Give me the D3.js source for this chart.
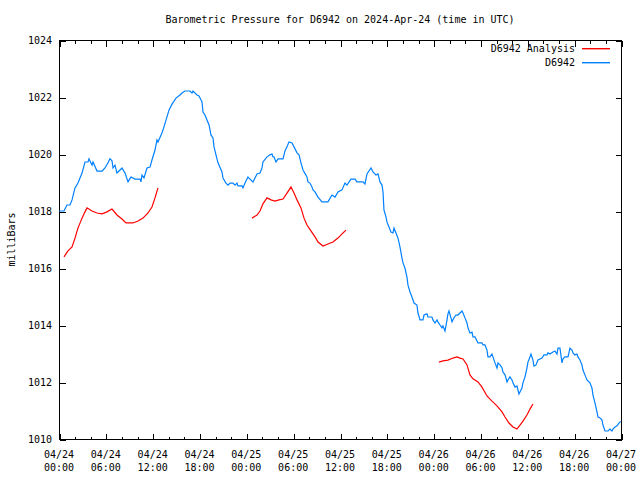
<!DOCTYPE html>
<html>
<head>
<meta charset="utf-8">
<script src="https://cdn.jsdelivr.net/npm/d3@7"></script>
<style>
  html, body { margin: 0; padding: 0; background: #fff; }
  svg { display: block; }
  text { font-family: "DejaVu Sans Mono", "Liberation Mono", monospace; font-size: 10px; fill: #000; }
</style>
</head>
<body>
<svg id="chart" width="640" height="480"></svg>
<script>
// ---- data (hours since 2024-04-24 00:00 UTC, pressure in millibars) ----
const chartTitle = "Barometric Pressure for D6942 on 2024-Apr-24 (time in UTC)";
const yAxisLabel = "milliBars";
const seriesNames = ["D6942 Analysis", "D6942"];

const xTickHours = [0, 6, 12, 18, 24, 30, 36, 42, 48, 54, 60, 66, 72];
const xTickDates = ["04/24","04/24","04/24","04/24","04/25","04/25","04/25","04/25","04/26","04/26","04/26","04/26","04/27"];
const xTickTimes = ["00:00","06:00","12:00","18:00","00:00","06:00","12:00","18:00","00:00","06:00","12:00","18:00","00:00"];
const yTickValues = [1010, 1012, 1014, 1016, 1018, 1020, 1022, 1024];

const stationHours = [
  0, 0.64, 1.02, 1.41, 1.67, 2.05, 2.43, 2.95, 3.33, 3.72, 3.84, 4.23, 4.36, 4.87, 5.51, 5.89, 6.28, 6.53, 6.79, 6.92,
  7.17, 7.43, 7.56, 8.07, 8.46, 8.84, 9.22, 9.74, 10.38, 10.50, 10.63, 10.89, 11.27, 11.66, 11.91, 12.30, 12.55, 12.68, 13.19, 13.32,
  13.71, 14.09, 14.48, 14.99, 15.50, 15.76, 16.14, 16.78, 17.04, 17.17, 17.68, 17.93, 18.32, 18.45, 18.70, 18.96, 19.22, 19.47, 19.73, 19.86,
  20.11, 20.37, 20.88, 21.01, 21.39, 21.65, 21.91, 22.29, 22.55, 22.80, 22.93, 23.44, 23.57, 23.83, 24.21, 24.47, 24.85, 25.11, 25.37, 25.75,
  26.01, 26.13, 26.65, 27.03, 27.29, 27.42, 27.54, 27.80, 28.06, 28.70, 28.95, 29.21, 29.46, 29.85, 30.11, 30.49, 30.75, 31.00, 31.26, 31.64,
  31.77, 31.90, 32.15, 32.41, 32.54, 32.80, 33.18, 33.69, 34.46, 34.97, 35.36, 35.74, 36.25, 36.64, 36.89, 37.41, 37.92, 38.18, 38.94, 39.20,
  39.46, 39.97, 40.23, 40.61, 40.87, 41.12, 41.38, 41.51, 41.63, 41.89, 42.02, 42.28, 42.53, 42.79, 42.92, 43.17, 43.43, 43.68, 43.94, 44.07,
  44.32, 44.58, 44.71, 44.97, 45.22, 45.48, 45.86, 45.99, 46.25, 46.63, 46.76, 47.14, 47.27, 47.78, 47.91, 48.17, 48.42, 48.55, 48.81, 49.06,
  49.19, 49.45, 49.71, 49.83, 49.96, 50.22, 50.35, 50.60, 50.86, 51.11, 51.37, 51.63, 51.76, 52.01, 52.27, 52.40, 52.65, 52.91, 53.04, 53.29,
  53.68, 54.19, 54.32, 54.57, 54.83, 54.96, 55.21, 55.47, 55.60, 55.86, 56.11, 56.24, 56.50, 56.76, 56.88, 57.14, 57.40, 57.52, 57.78, 58.03,
  58.16, 58.42, 58.67, 58.80, 58.93, 59.31, 59.44, 59.70, 59.95, 60.08, 60.34, 60.47, 60.72, 60.85, 61.11, 61.36, 61.88, 62.13, 62.52, 62.64,
  62.90, 63.28, 63.54, 63.80, 63.93, 64.18, 64.44, 64.57, 64.82, 65.21, 65.46, 65.72, 65.85, 66.10, 66.36, 66.49, 66.74, 67.00, 67.13, 67.38,
  67.64, 68.02, 68.28, 68.41, 68.67, 68.92, 69.05, 69.31, 69.56, 69.69, 69.95, 70.33, 70.59, 70.84, 70.97, 71.23, 71.49, 71.74, 71.95
];
const stationPressure = [
  1018.00, 1018.00, 1018.21, 1018.21, 1018.39, 1018.81, 1018.98, 1019.33, 1019.72, 1019.72, 1019.83, 1019.61, 1019.72, 1019.40, 1019.40, 1019.51, 1019.69, 1019.83, 1019.76, 1019.51,
  1019.61, 1019.33, 1019.37, 1019.51, 1019.33, 1019.02, 1019.19, 1019.12, 1019.12, 1019.02, 1019.26, 1019.16, 1019.51, 1019.54, 1019.79, 1020.14, 1020.49, 1020.42, 1020.74, 1020.84,
  1021.19, 1021.54, 1021.75, 1021.96, 1022.07, 1022.14, 1022.21, 1022.21, 1022.14, 1022.21, 1022.07, 1022.04, 1021.83, 1021.47, 1021.37, 1021.19, 1021.02, 1020.67, 1020.56, 1020.25,
  1019.97, 1019.69, 1019.37, 1019.16, 1018.98, 1018.91, 1018.98, 1018.98, 1018.91, 1018.98, 1018.88, 1018.88, 1018.81, 1018.98, 1019.19, 1019.12, 1019.02, 1019.16, 1019.30, 1019.33,
  1019.51, 1019.72, 1019.90, 1019.97, 1020.00, 1019.90, 1019.90, 1019.72, 1019.83, 1019.83, 1020.11, 1020.25, 1020.42, 1020.39, 1020.25, 1020.04, 1019.97, 1019.69, 1019.44, 1019.26,
  1019.19, 1019.02, 1018.98, 1018.84, 1018.74, 1018.67, 1018.49, 1018.32, 1018.32, 1018.56, 1018.49, 1018.67, 1018.74, 1018.98, 1018.91, 1019.12, 1019.12, 1019.02, 1019.02, 1018.95,
  1019.30, 1019.51, 1019.37, 1019.26, 1019.30, 1019.02, 1018.91, 1018.67, 1018.04, 1017.79, 1017.61, 1017.44, 1017.26, 1017.23, 1017.40, 1017.23, 1017.05, 1016.74, 1016.35, 1016.18,
  1016.00, 1015.68, 1015.40, 1015.16, 1014.98, 1014.77, 1014.70, 1014.42, 1014.18, 1014.18, 1014.35, 1014.39, 1014.28, 1014.28, 1014.18, 1014.07, 1014.18, 1014.11, 1014.00, 1013.90,
  1013.97, 1013.79, 1014.18, 1014.39, 1014.49, 1014.25, 1014.11, 1014.25, 1014.35, 1014.35, 1014.42, 1014.49, 1014.42, 1014.25, 1014.07, 1013.90, 1013.72, 1013.75, 1013.58, 1013.58,
  1013.37, 1013.37, 1013.30, 1013.30, 1013.12, 1012.88, 1012.88, 1012.98, 1012.88, 1012.67, 1012.49, 1012.67, 1012.60, 1012.49, 1012.35, 1012.25, 1012.00, 1012.07, 1012.18, 1012.07,
  1011.97, 1011.82, 1011.86, 1011.72, 1011.58, 1011.79, 1011.97, 1012.18, 1012.49, 1012.70, 1012.88, 1012.98, 1012.77, 1012.56, 1012.60, 1012.77, 1012.84, 1012.95, 1012.95, 1013.02,
  1012.98, 1013.05, 1013.09, 1012.98, 1013.19, 1013.19, 1012.67, 1012.81, 1012.88, 1012.88, 1013.19, 1013.12, 1013.02, 1012.95, 1012.98, 1012.88, 1012.77, 1012.60, 1012.42, 1012.25,
  1012.07, 1011.97, 1011.79, 1011.54, 1011.26, 1010.95, 1010.77, 1010.74, 1010.67, 1010.49, 1010.28, 1010.28, 1010.35, 1010.28, 1010.35, 1010.42, 1010.46, 1010.56, 1010.62
];

// analysis series: null marks a gap between runs
const analysisHours = [
  0.64, 1.15, 1.67, 2.05, 2.43, 2.95, 3.33, 3.59, 4.23, 4.87, 5.51, 6.15, 6.79, 7.43, 8.07, 8.58, 9.48, 10.12, 10.76, 11.40, 11.91, 12.30, 12.68,
  null,
  24.72, 25.37, 25.75, 26.13, 26.65, 27.16, 27.67, 28.18, 28.70, 29.21, 29.72, 30.11, 30.49, 31.00, 31.39, 31.77, 32.28, 32.80, 33.18, 33.82, 34.46, 35.10, 35.74, 36.38, 36.77,
  null,
  48.68, 49.19, 49.83, 50.47, 50.99, 51.37, 51.76, 52.27, 52.65, 53.04, 53.68, 54.19, 54.83, 55.47, 56.11, 56.76, 57.14, 57.65, 58.16, 58.67, 59.06, 59.44, 59.95, 60.34, 60.72
];
const analysisPressure = [
  1016.39, 1016.60, 1016.74, 1017.05, 1017.40, 1017.75, 1017.97, 1018.11, 1018.00, 1017.93, 1017.90, 1017.97, 1018.07, 1017.86, 1017.72, 1017.58, 1017.58, 1017.65, 1017.75, 1017.93, 1018.14, 1018.46, 1018.81,
  null,
  1017.75, 1017.86, 1018.00, 1018.25, 1018.46, 1018.39, 1018.35, 1018.39, 1018.42, 1018.63, 1018.84, 1018.63, 1018.39, 1018.11, 1017.75, 1017.51, 1017.30, 1017.09, 1016.91, 1016.77, 1016.84, 1016.91, 1017.05, 1017.23, 1017.33,
  null,
  1012.70, 1012.74, 1012.77, 1012.84, 1012.88, 1012.84, 1012.81, 1012.60, 1012.25, 1012.11, 1012.00, 1011.82, 1011.51, 1011.33, 1011.16, 1010.95, 1010.77, 1010.56, 1010.42, 1010.35, 1010.49, 1010.63, 1010.84, 1011.05, 1011.23
];

const colors = { analysis: "#ff0000", station: "#0080ff" };

// ---- layout ----
const svg = d3.select("#chart");
const L = 59, R = 621, T = 40, B = 439;

const x = d3.scaleLinear().domain([0, 72]).range([L, R]);
const y = d3.scaleLinear().domain([1010, 1024]).range([B, T]);

const minorHours = d3.range(0, 73, 2).filter(h => !xTickHours.includes(h));

// plot frame
svg.append("rect")
  .attr("x", L + 0.5).attr("y", T + 0.5)
  .attr("width", R - L).attr("height", B - T)
  .attr("fill", "none").attr("stroke", "#000").attr("stroke-width", 1)
  .attr("shape-rendering", "crispEdges");

function styleAxis(g) {
  g.select(".domain").remove();
  g.selectAll("line").attr("stroke", "#000").attr("shape-rendering", "crispEdges");
  g.selectAll("text").remove();
}

// bottom axis, major + minor ticks (inward)
svg.append("g").attr("transform", `translate(0.5,${B + 0.5})`)
  .call(d3.axisBottom(x).tickValues(xTickHours).tickSize(-6).tickFormat(""))
  .call(styleAxis);
svg.append("g").attr("transform", `translate(0.5,${B + 0.5})`)
  .call(d3.axisBottom(x).tickValues(minorHours).tickSize(-3).tickFormat(""))
  .call(styleAxis);
// top axis mirror
svg.append("g").attr("transform", `translate(0.5,${T + 0.5})`)
  .call(d3.axisTop(x).tickValues(xTickHours).tickSize(-6).tickFormat(""))
  .call(styleAxis);
svg.append("g").attr("transform", `translate(0.5,${T + 0.5})`)
  .call(d3.axisTop(x).tickValues(minorHours).tickSize(-3).tickFormat(""))
  .call(styleAxis);
// left axis ticks
svg.append("g").attr("transform", `translate(${L + 0.5},0.5)`)
  .call(d3.axisLeft(y).tickValues(yTickValues).tickSize(-6).tickFormat(""))
  .call(styleAxis);
// right axis mirror
svg.append("g").attr("transform", `translate(${R + 0.5},0.5)`)
  .call(d3.axisRight(y).tickValues(yTickValues).tickSize(-6).tickFormat(""))
  .call(styleAxis);

// y tick labels
svg.append("g").selectAll("text").data(yTickValues).join("text")
  .attr("x", L - 7).attr("y", d => y(d) + 4)
  .attr("text-anchor", "end")
  .text(d => d);

// x tick labels (two lines)
const xl = svg.append("g").selectAll("text").data(xTickHours).join("text")
  .attr("text-anchor", "middle");
xl.append("tspan").attr("x", d => x(d)).attr("y", B + 19).text((d, i) => xTickDates[i]);
xl.append("tspan").attr("x", d => x(d)).attr("y", B + 32).text((d, i) => xTickTimes[i]);

// title
svg.append("text").attr("x", (L + R) / 2).attr("y", 23)
  .attr("text-anchor", "middle").text(chartTitle);

// y label
svg.append("text").attr("transform", `translate(15,${(T + B) / 2}) rotate(-90)`)
  .attr("text-anchor", "middle").text(yAxisLabel);

// data lines
svg.append("defs").append("clipPath").attr("id", "plotclip")
  .append("rect").attr("x", L).attr("y", T).attr("width", R - L + 1).attr("height", B - T + 1);

const stationData = stationHours.map((h, i) => ({ h, p: stationPressure[i] }));
const analysisData = analysisHours.map((h, i) => ({ h, p: analysisPressure[i] }));

const line = d3.line()
  .defined(d => d.h !== null && d.p !== null)
  .x(d => x(d.h)).y(d => y(d.p));

svg.append("path").datum(analysisData)
  .attr("d", line).attr("fill", "none")
  .attr("stroke", colors.analysis).attr("stroke-width", 1.2)
  .attr("clip-path", "url(#plotclip)");

svg.append("path").datum(stationData)
  .attr("d", line).attr("fill", "none")
  .attr("stroke", colors.station).attr("stroke-width", 1.2)
  .attr("clip-path", "url(#plotclip)");

// legend
const legend = svg.append("g");
const legendItems = [
  { name: seriesNames[0], color: colors.analysis, yy: 48 },
  { name: seriesNames[1], color: colors.station, yy: 62 }
];
legendItems.forEach(it => {
  legend.append("text").attr("x", 575).attr("y", it.yy + 4)
    .attr("text-anchor", "end").text(it.name);
  legend.append("rect")
    .attr("x", 582).attr("y", it.yy)
    .attr("width", 28).attr("height", 1.4)
    .attr("fill", it.color);
});
</script>
</body>
</html>
